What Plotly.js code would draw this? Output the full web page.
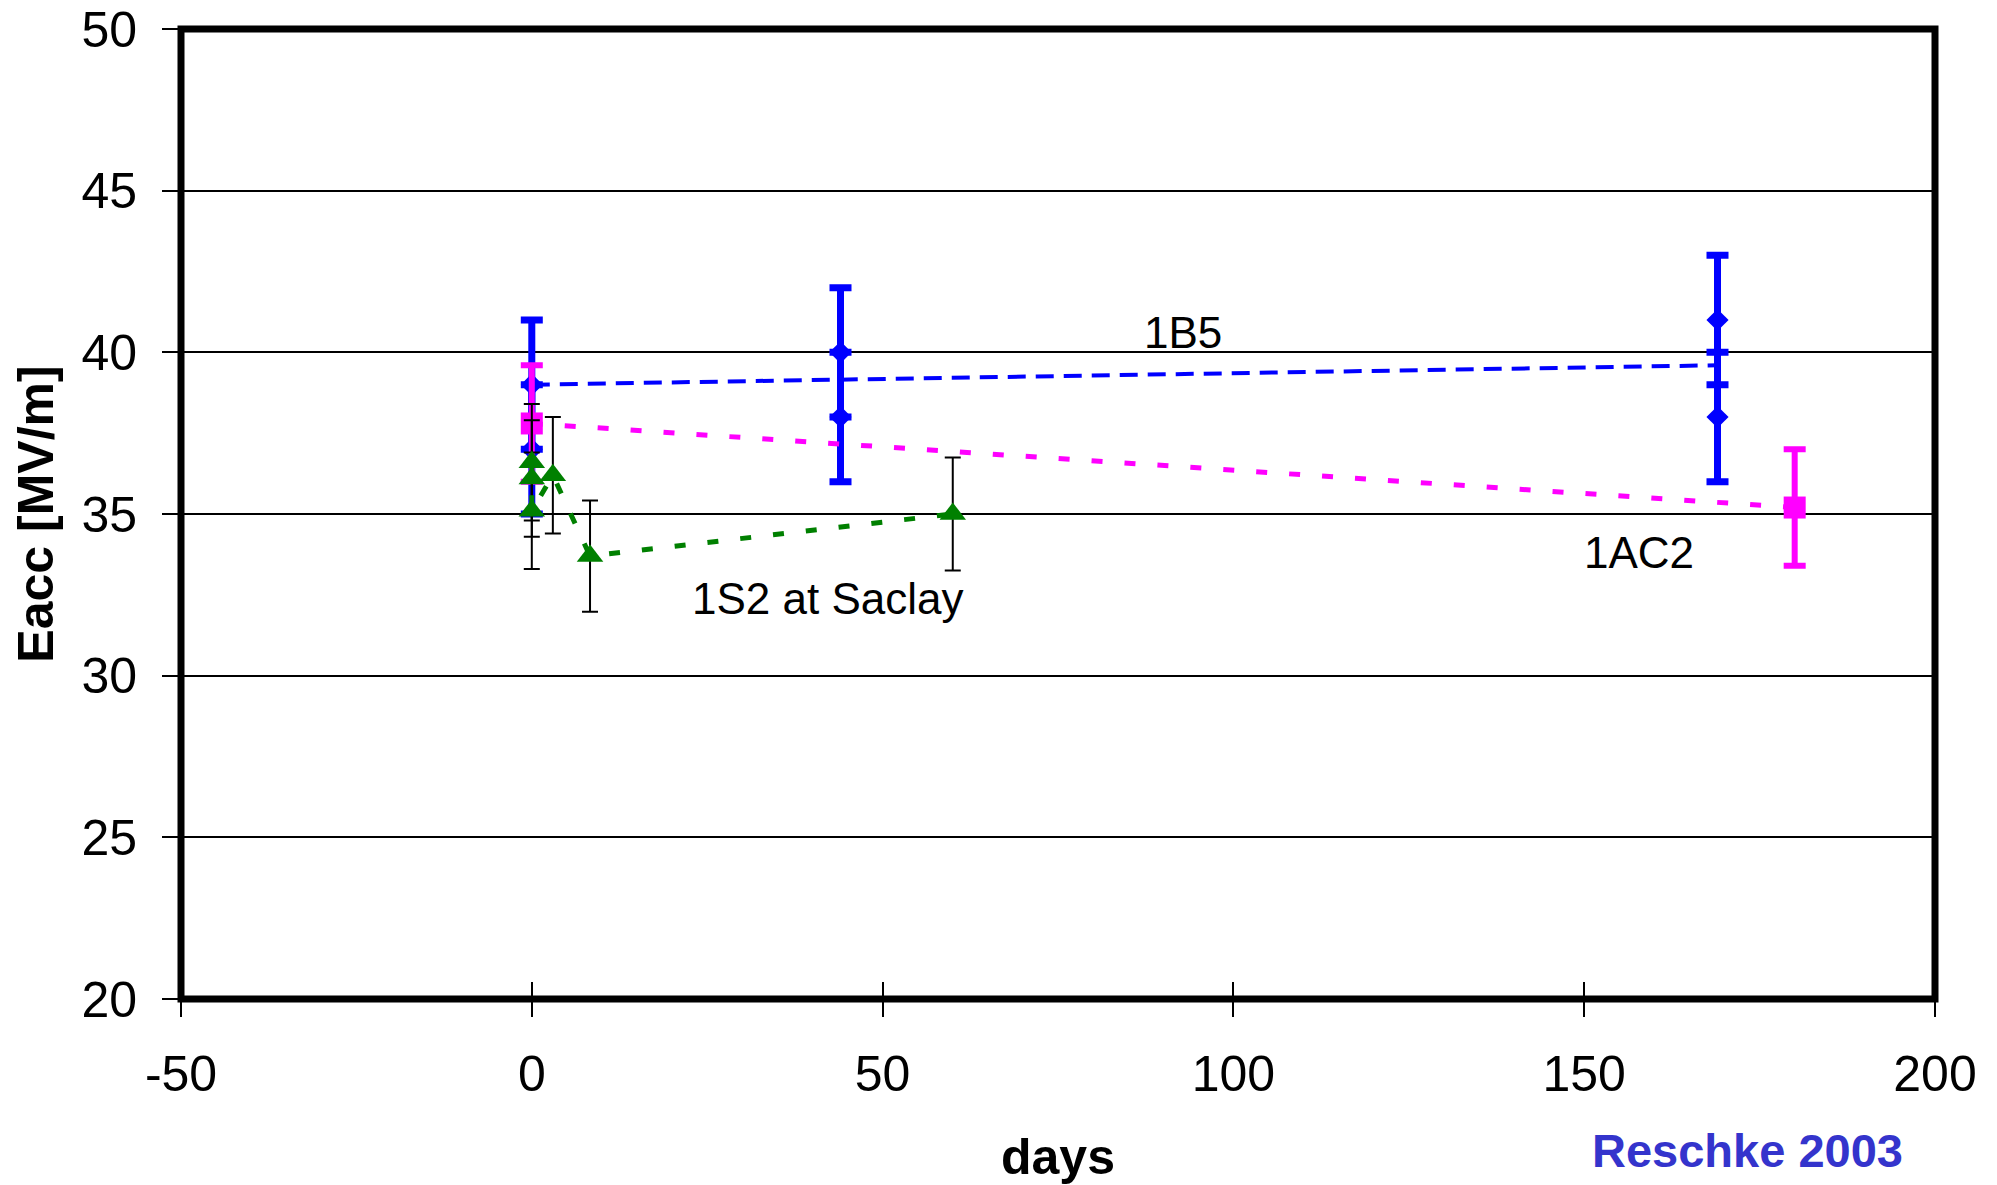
<!DOCTYPE html>
<html>
<head>
<meta charset="utf-8">
<script src="https://cdn.plot.ly/plotly-3.0.1.min.js"></script>
<style>html,body{margin:0;padding:0;background:#fff;}#chart{width:1997px;height:1185px;}</style>
</head>
<body>
<div id="chart"></div>
<script>
// ---- data ----
const blueX   = [0, 0, 44, 44, 169, 169];
const blueY   = [39, 37, 40, 38, 41, 38];
const blueErr = [2, 2, 2, 2, 2, 2];
const blueLineX = [0, 169];
const blueLineY = [39.0, 39.6];

const pinkX   = [0, 180];
const pinkY   = [37.8, 35.2];
const pinkErr = [1.8, 1.8];

const greenX   = [0, 0, 0, 3, 8.3, 60];
const greenY   = [36.6, 36.1, 35.1, 36.2, 33.7, 35.0];
const greenErr = [1.8, 1.8, 1.8, 1.8, 1.72, 1.75];

const xTicks = [-50, 0, 50, 100, 150, 200];
const yTicks = [20, 25, 30, 35, 40, 45, 50];

const labels = [
  {text: '1B5', x: 92.8, y: 40.6},
  {text: '1AC2', x: 157.8, y: 33.8},
  {text: '1S2 at Saclay', x: 42.2, y: 32.4}
];

const FONT = 'Liberation Sans, Arial, sans-serif';

const traces = [
  {
    x: blueLineX, y: blueLineY, mode: 'lines', type: 'scatter',
    line: {color: '#0000ff', width: 4, dash: '18px,10px'}, hoverinfo: 'skip'
  },
  {
    x: blueX, y: blueY, mode: 'markers', type: 'scatter', name: '1B5',
    marker: {symbol: 'diamond', size: 17, color: '#0000ff'},
    error_y: {type: 'data', array: blueErr, visible: true, color: '#0000ff', thickness: 7, width: 11}
  },
  {
    x: pinkX, y: pinkY, mode: 'lines+markers', type: 'scatter', name: '1AC2',
    line: {color: '#ff00ff', width: 5, dash: '11px,22px'},
    marker: {symbol: 'square', size: 22, color: '#ff00ff'},
    error_y: {type: 'data', array: pinkErr, visible: true, color: '#ff00ff', thickness: 6, width: 11}
  },
  {
    x: greenX, y: greenY, mode: 'lines+markers', type: 'scatter', name: '1S2 at Saclay',
    xaxis: 'x2', yaxis: 'y',
    line: {color: '#008000', width: 5, dash: '11px,22px'},
    marker: {symbol: 'triangle-up', size: 23, color: '#008000'},
    error_y: {type: 'data', array: greenErr, visible: true, color: '#000000', thickness: 2, width: 8}
  }
];

const annotations = labels.map(l => ({
  text: l.text, x: l.x, y: l.y, xref: 'x', yref: 'y', showarrow: false,
  font: {family: FONT, size: 44, color: '#000'}
}));
annotations.push({
  text: 'Reschke 2003', xref: 'paper', yref: 'paper', x: 0.893, y: -0.1557,
  xanchor: 'center', yanchor: 'middle',
  showarrow: false, font: {family: FONT, size: 47, color: '#3434cc', weight: 'bold'}
});

const layout = {
  width: 1997, height: 1185,
  margin: {l: 181, r: 62, t: 29, b: 186},
  paper_bgcolor: '#fff', plot_bgcolor: '#fff',
  showlegend: false,
  font: {family: FONT, size: 50, color: '#000'},
  xaxis: {
    range: [-50, 200], tickvals: xTicks, ticktext: xTicks.map(String),
    showgrid: false, zeroline: false, showline: false,
    ticks: 'outside', ticklen: 17, tickwidth: 2, tickcolor: '#000',
    ticklabelstandoff: 14,
    tickfont: {family: FONT, size: 50, color: '#000'},
    title: {text: 'days', font: {family: FONT, size: 50, color: '#000', weight: 'bold'}, standoff: 60}
  },
  xaxis2: {
    overlaying: 'x', anchor: 'y', side: 'bottom',
    range: [-50, 200], tickvals: xTicks, showticklabels: false,
    showgrid: false, zeroline: false, showline: false,
    ticks: 'inside', ticklen: 17, tickwidth: 2, tickcolor: '#000'
  },
  yaxis: {
    range: [20, 50], tickvals: yTicks, ticktext: yTicks.map(String),
    showgrid: true, gridcolor: '#000', gridwidth: 2, zeroline: false, showline: false,
    ticks: 'outside', ticklen: 18, tickwidth: 2, tickcolor: '#000',
    ticklabelstandoff: 15,
    tickfont: {family: FONT, size: 50, color: '#000'},
    title: {text: 'Eacc [MV/m]', font: {family: FONT, size: 50, color: '#000', weight: 'bold'}, standoff: 11}
  },
  shapes: [{
    type: 'rect', xref: 'paper', yref: 'paper', x0: 0, x1: 1, y0: 0, y1: 1,
    line: {color: '#000', width: 7}, fillcolor: 'rgba(0,0,0,0)', layer: 'above'
  }],
  annotations: annotations
};

Plotly.newPlot('chart', traces, layout, {staticPlot: true, displayModeBar: false});
</script>
</body>
</html>
